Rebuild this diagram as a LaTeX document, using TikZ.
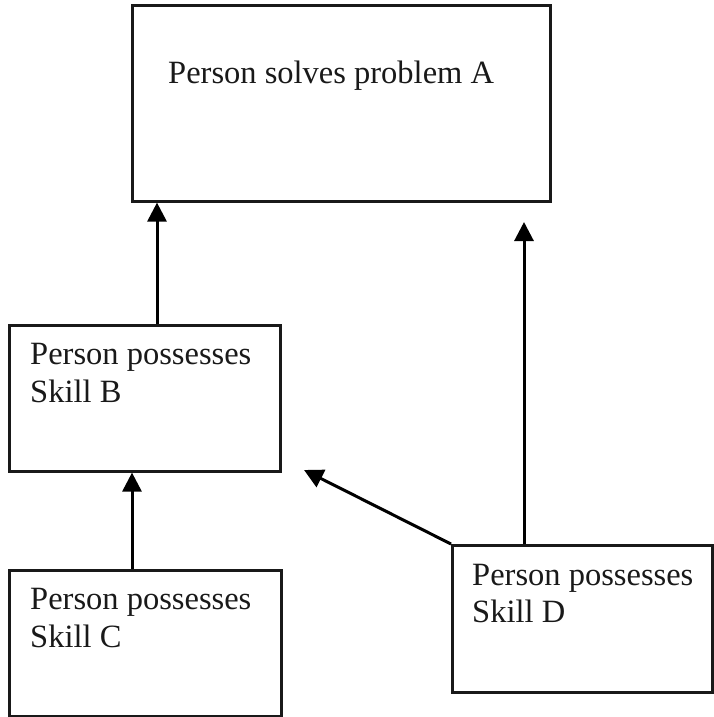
\documentclass[tikz,border=0pt]{standalone}
\usepackage{fontspec}
\setmainfont{Liberation Serif}
\usetikzlibrary{arrows.meta}
\begin{document}
\begin{tikzpicture}[x=1pt,y=-1pt,
  box/.style={draw=black!90,line width=2.6pt,rectangle,inner sep=0pt,anchor=north west},
  lbl/.style={font=\fontsize{32.5pt}{38pt}\selectfont,inner sep=0pt,anchor=base west,text=black!90},
  conn/.style={draw=black,line width=3pt,-{Triangle[width=19pt,length=19pt]}}]
\useasboundingbox (0,0) rectangle (714,717);
% boxes
\node[box,minimum width=418pt,minimum height=196pt] (A) at (131,4) {};
\node[box,minimum width=271pt,minimum height=146pt] (B) at (8,324) {};
\node[box,minimum width=272pt,minimum height=146pt] (C) at (8,569) {};
\node[box,minimum width=260pt,minimum height=147pt] (D) at (451,544) {};
% texts
\node[lbl] (ta) at (168,83) {Person solves problem A};
\node[lbl] (tb1) at (30,364) {Person possesses};
\node[lbl] (tb2) at (30,402) {Skill B};
\node[lbl] (tc1) at (30,609) {Person possesses};
\node[lbl] (tc2) at (30,647) {Skill C};
\node[lbl] (td1) at (472,585) {Person possesses};
\node[lbl] (td2) at (472,622) {Skill D};
% free ends
\coordinate (up) at (524,222);
\coordinate (left) at (304,470);
% connectors
\draw[conn] (B.north -| 157,0) -- (A.south -| 157,0);
\draw[conn] (C.north -| 132,0) -- (B.south -| 132,0);
\draw[conn] (D.north -| up) -- (up);
\draw[conn] (D.north west) -- (left);
\end{tikzpicture}
\end{document}
